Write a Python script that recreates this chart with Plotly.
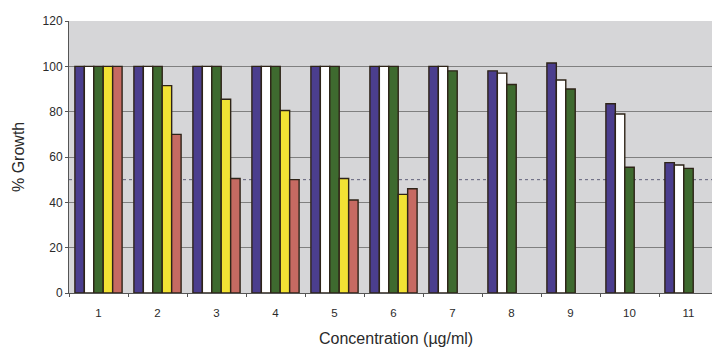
import plotly.graph_objects as go

# Concentration steps on the x axis
concentrations = ["1", "2", "3", "4", "5", "6", "7", "8", "9", "10", "11"]

# % growth for each of the five series (None = not measured)
series_a = [100, 100, 100, 100, 100, 100, 100, 98, 101.5, 83.5, 57.5]
series_b = [100, 100, 100, 100, 100, 100, 100, 97, 94, 79, 56.5]
series_c = [100, 100, 100, 100, 100, 100, 98, 92, 90, 55.5, 55]
series_d = [100, 91.5, 85.5, 80.5, 50.5, 43.5, None, None, None, None, None]
series_e = [100, 70, 50.5, 50, 41, 46, None, None, None, None, None]

y_ticks = [0, 20, 40, 60, 80, 100, 120]
reference_level = 50

colors = ["#4b3e8e", "#ffffff", "#3e6a2f", "#f2e234", "#c66a62"]
all_series = [series_a, series_b, series_c, series_d, series_e]

W, H = 712, 347
L, R, T, B = 69, 0, 21, 54

fig = go.Figure()
x_idx = list(range(1, len(concentrations) + 1))
for vals, col in zip(all_series, colors):
    fig.add_trace(go.Bar(
        x=x_idx, y=vals,
        marker=dict(color=col, line=dict(color="#2e2418", width=1.4)),
        showlegend=False,
    ))

# category pitch of about 59 px; the plot runs off the right edge slightly
pitch = 59.0
x_end = 0.5 + (W - L - R) / pitch

fig.add_shape(type="line", xref="paper", yref="y", x0=0, x1=1,
              y0=reference_level, y1=reference_level,
              line=dict(color="#5f5f7a", width=1, dash="dot"), layer="below")

fig.update_layout(
    width=W, height=H,
    margin=dict(l=L, r=R, t=T, b=B),
    paper_bgcolor="#ffffff",
    plot_bgcolor="#d6d6d8",
    barmode="group",
    bargap=0.2,
    bargroupgap=0,
    font=dict(family="Liberation Sans, Arial, sans-serif", color="#2a2a2a", size=12),
    xaxis=dict(
        range=[0.5, x_end],
        tickmode="array", tickvals=x_idx, ticktext=concentrations,
        showgrid=False, zeroline=False,
        showline=True, linecolor="#555555", linewidth=1,
        ticks="", tickfont=dict(size=11.5), ticklabelstandoff=9,
        minor=dict(tickmode="array", tickvals=[i + 0.5 for i in range(0, 12)],
                   ticks="outside", ticklen=3, tickcolor="#555555"),
    ),
    yaxis=dict(
        range=[0, 120],
        tickmode="array", tickvals=y_ticks,
        showgrid=True, gridcolor="#808080", gridwidth=1,
        zeroline=False,
        showline=True, linecolor="#555555", linewidth=1,
        ticks="outside", ticklen=3, tickcolor="#555555",
        tickfont=dict(size=12),
    ),
    annotations=[
        dict(text="% Growth", xref="paper", yref="paper", x=-(L - 18) / (W - L - R),
             y=0.5, showarrow=False, textangle=-90,
             font=dict(size=16, color="#2a2a2a"), xanchor="center", yanchor="middle"),
        dict(text="Concentration (\u00b5g/ml)", xref="paper", yref="paper",
             x=(396 - L) / (W - L - R), y=-(338 - (H - B)) / (H - T - B),
             showarrow=False, font=dict(size=16, color="#2a2a2a"),
             xanchor="center", yanchor="middle"),
    ],
)

fig.write_html("out.html")
